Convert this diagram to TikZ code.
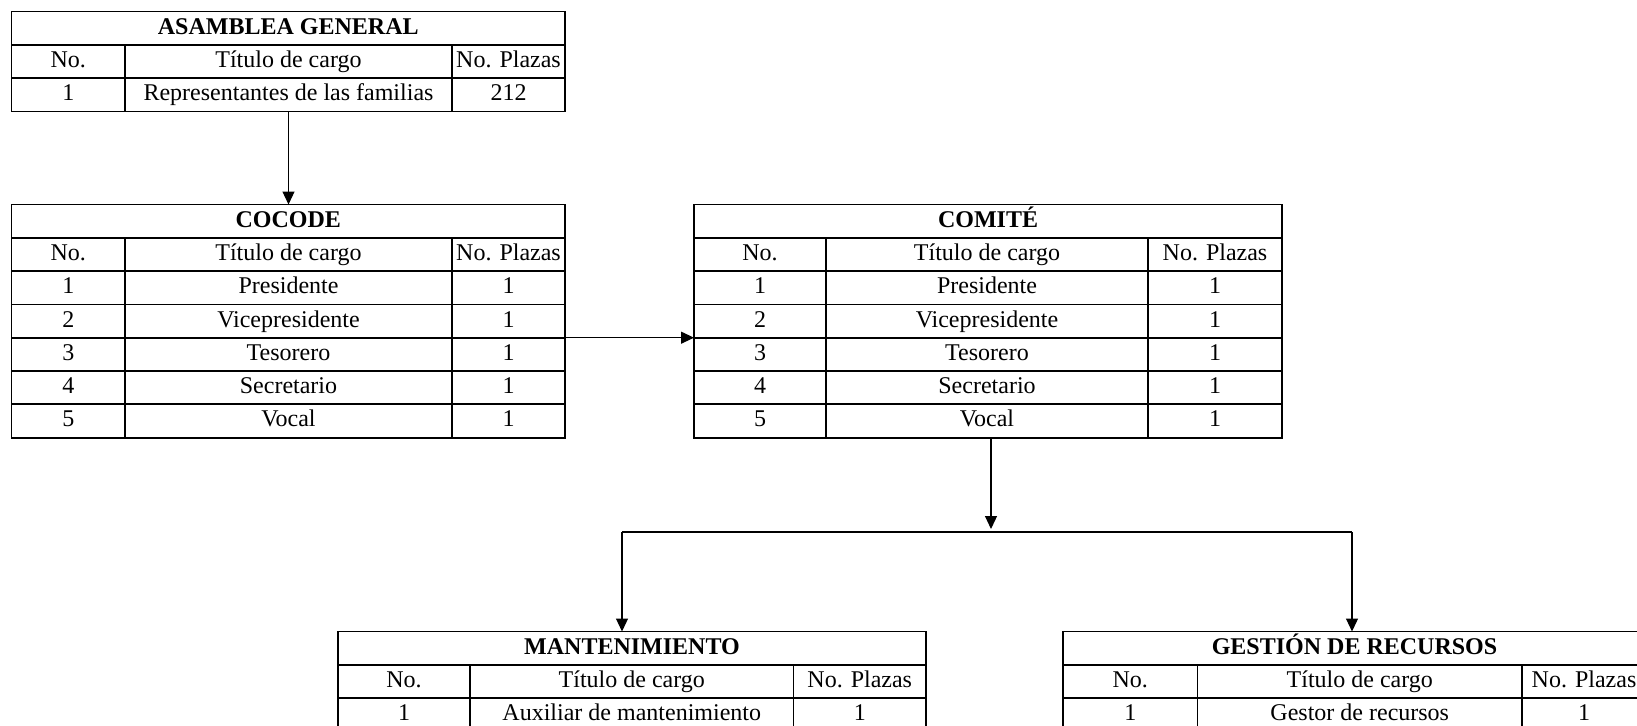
\documentclass[tikz,border=0pt]{standalone}
\usepackage{fontspec}
\setmainfont{Liberation Serif}
\usepackage{tikz}
\usetikzlibrary{positioning, arrows.meta}

% tabla de cargos: nombre, x, y, ancho No., ancho cargo, ancho plazas, titulo, filas
\newcommand{\tablacargos}[8]{
        \node[titulo, minimum width={#4pt+#5pt+#6pt}, anchor=north west] (#1-t) at (#2,#3) {#7};
        \foreach \nro/\cargo/\plazas [count=\k] in {No./Título de cargo/No. Plazas, #8} {
                \node[celda, minimum width=#4pt, anchor=north west] (#1-\k-a) at ({#2},{#3+\k*33.3}) {\nro};
                \node[celda, minimum width=#5pt, right=0pt of #1-\k-a] (#1-\k-b) {\cargo};
                \node[celda, minimum width=#6pt, right=0pt of #1-\k-b] (#1-\k-c) {\plazas};
        }
}

\begin{document}
\begin{tikzpicture}[x=1pt, y=-1pt,
        celda/.style={draw, rectangle, line width=1.8pt, inner sep=0pt, outer sep=0pt, minimum height=33.3pt, text height=17pt, text depth=5pt, font=\fontsize{24}{28}\selectfont},
        titulo/.style={celda, font=\fontsize{24}{28}\selectfont\bfseries},
        flecha/.style={line width=1.2pt, -{Triangle[length=13pt, width=12pt]}}]

        \useasboundingbox (0,0) rectangle (1637,725);
        \clip (0,0) rectangle (1637,725);

        % Tablas
        \tablacargos{asamblea}{11.5}{11.5}{113.5}{327}{113}{ASAMBLEA GENERAL}{1/Representantes de las familias/212}
        \tablacargos{cocode}{11.5}{204.5}{113.5}{327}{113}{COCODE}{1/Presidente/1, 2/Vicepresidente/1, 3/Tesorero/1, 4/Secretario/1, 5/Vocal/1}
        \tablacargos{comite}{694}{204.5}{132}{322}{134}{COMITÉ}{1/Presidente/1, 2/Vicepresidente/1, 3/Tesorero/1, 4/Secretario/1, 5/Vocal/1}
        \tablacargos{mant}{338}{631.5}{132}{323.5}{132.5}{MANTENIMIENTO}{1/Auxiliar de mantenimiento/1}
        \tablacargos{gestion}{1063}{631.5}{134.5}{324.5}{124}{GESTIÓN DE RECURSOS}{1/Gestor de recursos/1}

        % Conexiones
        \coordinate (bus-centro) at (991,529);
        \coordinate (bus-izq) at (622,532);
        \coordinate (bus-der) at (1352,532);

        \draw[flecha] (asamblea-2-b.south) -- (asamblea-2-b.south |- cocode-t.north);
        \draw[flecha] (cocode-3-c.south east) -- (comite-3-a.south west);
        \draw[flecha] (comite-6-b.south -| bus-centro) -- (bus-centro);
        \draw[line width=1.2pt] (bus-izq) -- (bus-der);
        \draw[flecha] (bus-izq) -- (bus-izq |- mant-t.north);
        \draw[flecha] (bus-der) -- (bus-der |- gestion-t.north);
\end{tikzpicture}
\end{document}
